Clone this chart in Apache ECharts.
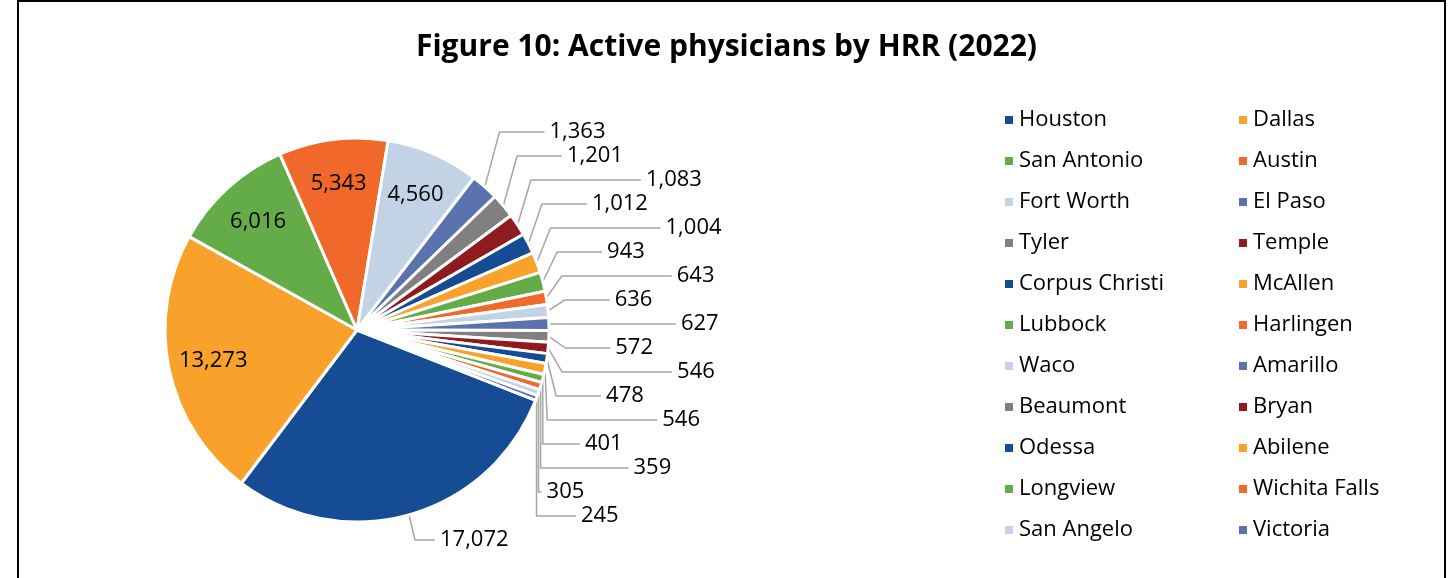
<!DOCTYPE html>
<html lang="en">
<head>
    <meta charset="UTF-8">
    <title>Active physicians by HRR</title>
    <script src="https://cdn.jsdelivr.net/npm/echarts@6/dist/echarts.min.js"></script>
    <style>
        body { margin: 0; background: #fff; }
        #frame { position: absolute; left: 17px; top: 0; width: 1425px; height: 600px; border: 2px solid #000; }
        #main { position: absolute; left: 0; top: 0; width: 1453px; height: 578px; }
    </style>
</head>
<body>
<div id="frame"></div>
<div id="main"></div>
<script>
    // HRR names, clockwise from the Houston slice
    var regions = ['Houston', 'Dallas', 'San Antonio', 'Austin', 'Fort Worth', 'El Paso',
        'Tyler', 'Temple', 'Corpus Christi', 'McAllen', 'Lubbock', 'Harlingen',
        'Waco', 'Amarillo', 'Beaumont', 'Bryan', 'Odessa', 'Abilene',
        'Longview', 'Wichita Falls', 'San Angelo', 'Victoria'];
    var physicians = [17072, 13273, 6016, 5343, 4560, 1363,
        1201, 1083, 1012, 1004, 943, 643,
        636, 627, 572, 546, 478, 546,
        401, 359, 305, 245];
    // slices whose label sits inside the wedge
    var insideLabels = ['Dallas', 'San Antonio', 'Austin', 'Fort Worth'];

    var palette = ['#154c94', '#f9a22b', '#64ac48', '#f0692a', '#c3d3e6', '#5a73ae', '#808080', '#8f1b1f'];

    var fmt = function (v) { return v.toLocaleString('en-US'); };

    var myChart = echarts.init(document.getElementById('main'));

    var mainData = [];
    var innerData = [];
    for (var i = 0; i < regions.length; i++) {
        var isIn = insideLabels.indexOf(regions[i]) >= 0;
        // staggered leader lines, like the original
        var tail = i === 0 ? 20 : (i % 2 === 1 && i > 6 ? 110 : 45);
        mainData.push({
            name: regions[i],
            value: physicians[i],
            label: { show: !isIn },
            labelLine: { show: !isIn, length2: tail }
        });
        innerData.push({
            name: regions[i],
            value: physicians[i],
            label: { show: isIn }
        });
    }

    var legendLeft = [], legendRight = [];
    regions.forEach(function (r, idx) {
        if (idx % 2 === 0) legendLeft.push(r); else legendRight.push(r);
    });

    var legendBase = {
        orient: 'vertical',
        top: 102,
        icon: 'rect',
        itemWidth: 10,
        itemHeight: 10,
        itemGap: 15,
        selectedMode: false,
        textStyle: { fontFamily: 'Open Sans', fontSize: 22, color: '#000', lineHeight: 26 }
    };

    var option = {
        color: palette,
        animation: false,
        title: {
            text: 'Figure 10: Active physicians by HRR (2022)',
            left: 'center',
            top: 27,
            textStyle: { fontFamily: 'Open Sans', fontWeight: 'bold', fontSize: 30, color: '#000' }
        },
        legend: [
            Object.assign({}, legendBase, { left: 998, data: legendLeft }),
            Object.assign({}, legendBase, { left: 1232, data: legendRight })
        ],
        series: [
            {
                name: 'Active physicians',
                type: 'pie',
                left: 0,
                top: 0,
                width: 1453,
                height: 552,
                center: [357, 330],
                radius: [0, 192],
                startAngle: -21.5,
                clockwise: true,
                avoidLabelOverlap: true,
                itemStyle: { borderColor: '#fff', borderWidth: 3 },
                label: {
                    position: 'outside',
                    formatter: function (p) { return fmt(p.value); },
                    fontFamily: 'Open Sans',
                    fontSize: 22,
                    color: '#000'
                },
                labelLine: {
                    length: 22,
                    length2: 45,
                    lineStyle: { color: '#a6a6a6', width: 1.5 }
                },
                data: mainData
            },
            {
                // transparent ring, only used to place the inside labels further out
                name: 'inside labels',
                type: 'pie',
                silent: true,
                left: 0,
                top: 0,
                width: 1453,
                height: 552,
                center: [357, 330],
                radius: [96, 192],
                startAngle: -21.5,
                clockwise: true,
                itemStyle: { color: 'rgba(0,0,0,0)', borderWidth: 0 },
                label: {
                    position: 'inside',
                    formatter: function (p) { return fmt(p.value); },
                    fontFamily: 'Open Sans',
                    fontSize: 22,
                    color: '#000'
                },
                labelLine: { show: false },
                data: innerData
            }
        ]
    };

    myChart.setOption(option);
</script>
</body>
</html>
